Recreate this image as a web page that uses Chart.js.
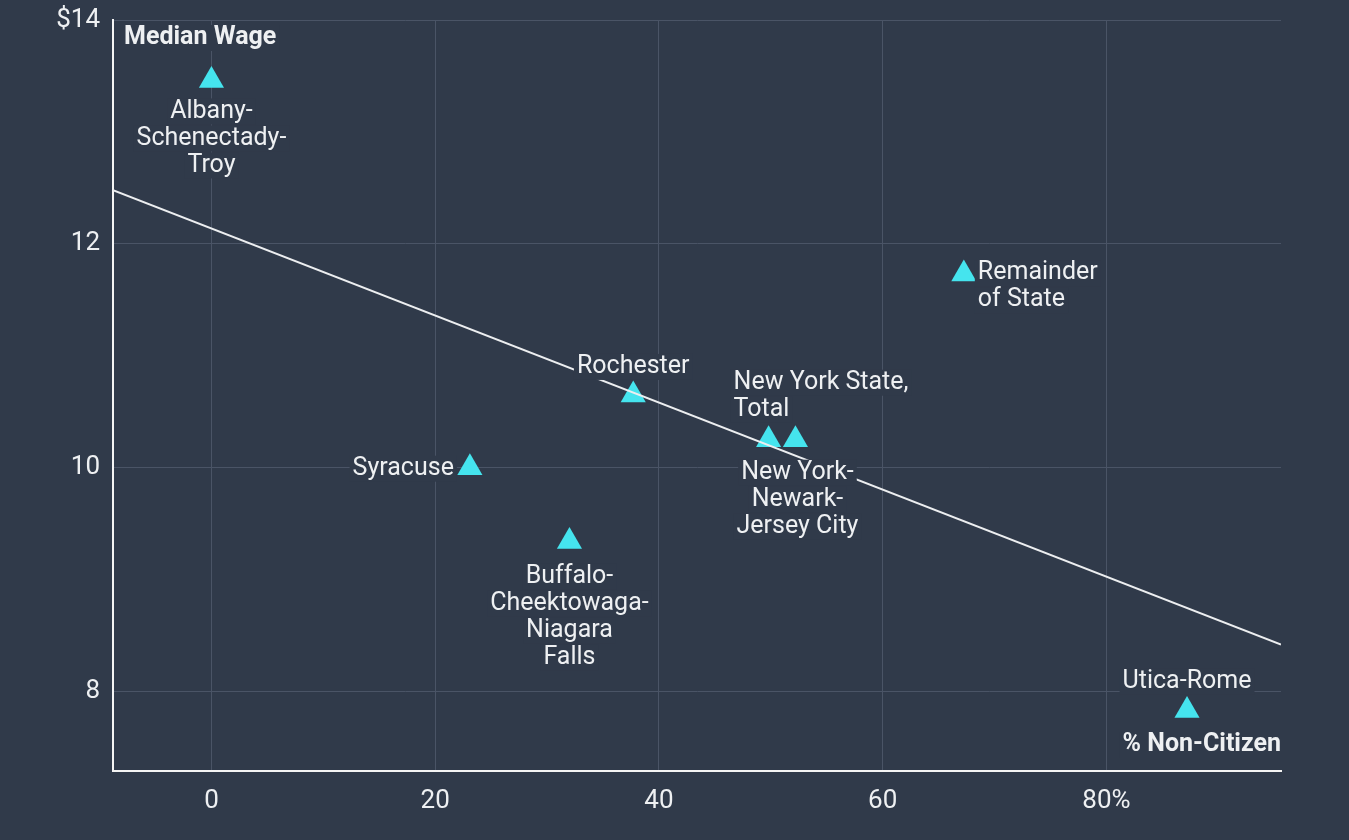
<!DOCTYPE html>
<html>
<head>
<meta charset="utf-8">
<script src="https://cdn.jsdelivr.net/npm/chart.js"></script>
<style>
  html, body { margin: 0; padding: 0; background: #303a4a; }
  #wrap { width: 1349px; height: 840px; }
</style>
</head>
<body>
<div id="wrap"><canvas id="myChart" width="1349" height="840"></canvas></div>
<script>
    // values
    const places = ['Albany-Schenectady-Troy', 'Remainder of State', 'Rochester', 'New York State, Total',
                    'New York-Newark-Jersey City', 'Syracuse', 'Buffalo-Cheektowaga-Niagara Falls', 'Utica-Rome']
    const nonCitizen = [0.0, 67.25, 37.7, 49.8, 52.2, 23.1, 32.0, 87.2]
    const medianWage = [13.46, 11.73, 10.65, 10.25, 10.25, 10.0, 9.34, 7.83]
    const trendX = [-8.8, 95.6]
    const trendY = [12.48, 8.42]
    const xTicks = [0, 20, 40, 60, 80]
    const yTicks = [8, 10, 12, 14]

    const BG = '#303a4a'
    const TXT = '#eef0f2'
    const FONT = 'Roboto, "Noto Sans", sans-serif'

    // how each point's label sits next to it (lines, alignment, offset in px from the point)
    const labelPlacement = [
        {lines: ['Albany-', 'Schenectady-', 'Troy'], align: 'center', dx: 0, dy: 31},
        {lines: ['Remainder', 'of State'], align: 'left', dx: 14, dy: -1},
        {lines: ['Rochester'], align: 'center', dx: 0, dy: -28},
        {lines: ['New York State,', 'Total'], align: 'left', dx: -35, dy: -57},
        {lines: ['New York-', 'Newark-', 'Jersey City'], align: 'center', dx: 2, dy: 33},
        {lines: ['Syracuse'], align: 'right', dx: -16, dy: 1},
        {lines: ['Buffalo-', 'Cheektowaga-', 'Niagara', 'Falls'], align: 'center', dx: 0, dy: 35},
        {lines: ['Utica-Rome'], align: 'center', dx: 0, dy: -29}
    ]

    function textBox(ctx, text, x, y, align, font) {
        ctx.font = font
        const w = ctx.measureText(text).width
        let left = x
        if (align === 'center') left = x - w / 2
        if (align === 'right') left = x - w
        ctx.fillStyle = BG
        ctx.fillRect(left - 3, y - 13, w + 6, 26)
        ctx.fillStyle = TXT
        ctx.textAlign = align
        ctx.textBaseline = 'middle'
        ctx.fillText(text, x, y)
    }

    const labelPlugin = {
        id: 'pointLabels',
        beforeDraw(chart) {
            const ctx = chart.ctx
            ctx.save()
            ctx.fillStyle = BG
            ctx.fillRect(0, 0, chart.width, chart.height)
            ctx.restore()
        },
        afterDatasetsDraw(chart) {
            const ctx = chart.ctx
            const meta = chart.getDatasetMeta(1)
            ctx.save()
            meta.data.forEach((pt, i) => {
                const lp = labelPlacement[i]
                lp.lines.forEach((line, k) => {
                    textBox(ctx, line, pt.x + lp.dx, pt.y + lp.dy + k * 27, lp.align, '25px ' + FONT)
                })
            })
            const area = chart.chartArea
            textBox(ctx, 'Median Wage', area.left + 11, area.top + 18, 'left', 'bold 25px ' + FONT)
            textBox(ctx, '% Non-Citizen', area.right, area.bottom - 26, 'right', 'bold 25px ' + FONT)
            ctx.restore()
        }
    }

    const config = {
        type: 'scatter',
        data: {
            datasets: [
                {
                    type: 'line',
                    label: 'trend',
                    data: trendX.map((x, i) => ({x: x, y: trendY[i]})),
                    borderColor: '#eceef0',
                    borderWidth: 2,
                    pointRadius: 0,
                    fill: false
                },
                {
                    label: 'places',
                    data: nonCitizen.map((x, i) => ({x: x, y: medianWage[i], name: places[i]})),
                    pointStyle: 'triangle',
                    pointRadius: 14.5,
                    pointBackgroundColor: '#45e4ee',
                    pointBorderWidth: 0,
                    borderWidth: 0
                }
            ]
        },
        options: {
            responsive: false,
            animation: false,
            layout: { padding: { top: 20, right: 68, left: 0, bottom: 0 } },
            plugins: { legend: { display: false }, tooltip: { enabled: false } },
            scales: {
                x: {
                    type: 'linear',
                    min: -8.8,
                    max: 95.6,
                    afterBuildTicks: s => { s.ticks = xTicks.map(v => ({value: v})) },
                    afterFit: s => { s.height = 69; s.paddingLeft = 0; s.paddingRight = 0 },
                    ticks: {
                        color: TXT,
                        font: { family: FONT, size: 26 },
                        padding: 15,
                        callback: v => v === 80 ? '80%' : String(v)
                    },
                    grid: { color: '#4a5466', lineWidth: 1, drawTicks: false },
                    border: { color: '#f4f4f4', width: 2 }
                },
                y: {
                    type: 'linear',
                    min: 7.29,
                    max: 14,
                    afterBuildTicks: s => { s.ticks = yTicks.map(v => ({value: v})) },
                    afterFit: s => { s.width = 113; s.paddingTop = 0; s.paddingBottom = 0 },
                    ticks: {
                        color: TXT,
                        font: { family: FONT, size: 26 },
                        padding: 13,
                        callback: v => v === 14 ? '$14' : String(v)
                    },
                    grid: { color: '#4a5466', lineWidth: 1, drawTicks: false },
                    border: { color: '#f4f4f4', width: 2 }
                }
            }
        },
        plugins: [labelPlugin]
    }

    const myChart = new Chart(document.getElementById('myChart'), config)
</script>
</body>
</html>
